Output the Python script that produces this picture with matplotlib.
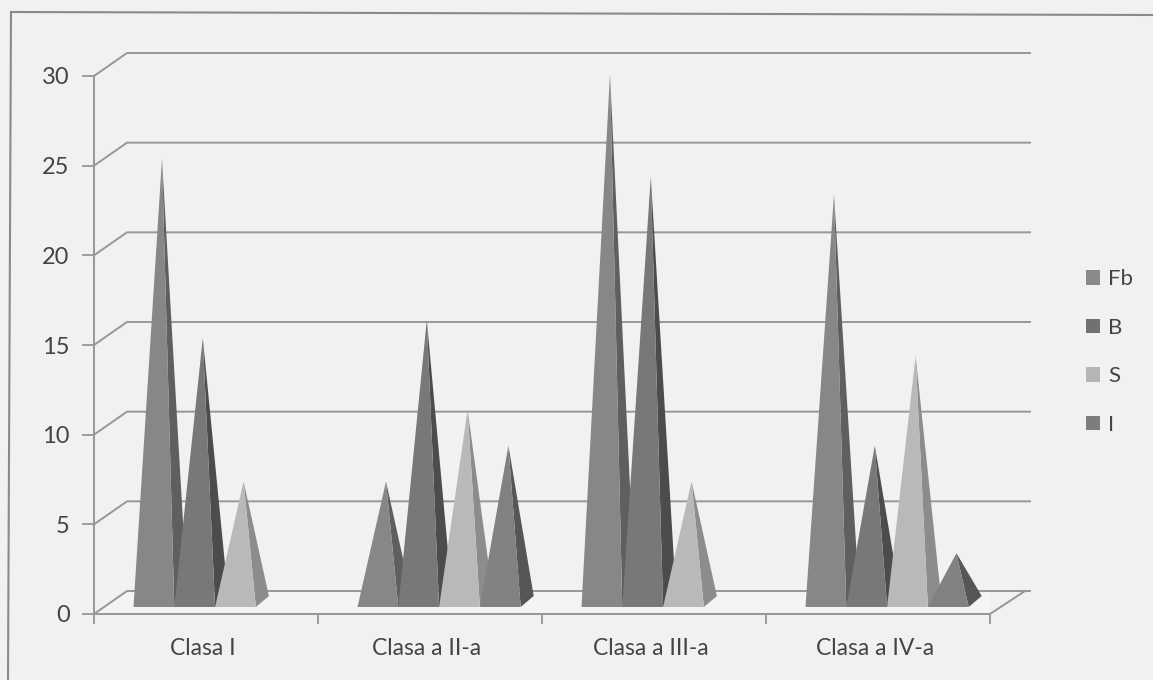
import matplotlib
matplotlib.use('Agg')
import matplotlib.pyplot as plt
from matplotlib.lines import Line2D
from matplotlib.patches import Polygon, Patch

categories = ['Clasa I', 'Clasa a II-a', 'Clasa a III-a', 'Clasa a IV-a']
series_names = ['Fb', 'B', 'S', 'I']
fb = [25, 7, 29.7, 23]
b = [15, 16, 24, 9]
s = [7, 11, 7, 14]
i_vals = [0, 9, 0, 3]
y_ticks = [0, 5, 10, 15, 20, 25, 30]

front_colors = ['#878787', '#787878', '#b9b9b9', '#818181']
side_colors = ['#5f5f5f', '#4c4c4c', '#8c8c8c', '#565656']
legend_colors = ['#8a8a8a', '#717171', '#b5b5b5', '#7d7d7d']
grid_color = '#979797'
text_color = '#444444'
bg = '#f1f1f1'

W, H = 1153, 680
fig = plt.figure(figsize=(W / 100, H / 100), dpi=100, facecolor=bg)
plt.rcParams['font.family'] = ['Lato', 'DejaVu Sans']

# axes is the front plane of the fake 3d box
ax = fig.add_axes([94 / W, 1 - 614 / H, (990 - 94) / W, (614 - 76) / H])
ax.set_xlim(0, 4)
ax.set_ylim(0, 30)
ax.patch.set_visible(False)

# pixel sizes in data units
px = 4 / (990 - 94)
py = 30 / (614 - 76)
wall_dx, wall_dy = 33 * px, 23 * py

for v in y_ticks:
    ax.plot([0, wall_dx, 4 + 40 * px], [v, v + wall_dy, v + wall_dy],
            color=grid_color, lw=1.4, clip_on=False, zorder=1)
ax.plot([4, 4 + 35 * px], [0, wall_dy], color=grid_color, lw=1.4, clip_on=False, zorder=1)

# floor, slightly lighter under the pyramids
ax.add_patch(Polygon([(0, 0), (wall_dx, wall_dy), (4 + 35 * px, wall_dy), (4, 0)],
                     closed=True, facecolor='#f4f4f4', edgecolor='none', zorder=0.5))

base_y = 7 * py
offset = 39.5 * px
width = 40.8 * px
depth_x, depth_y = 13 * px, 11 * py
apex_x = 28.5 * px


def pyramid(x, value, front, side):
    if value <= 0:
        return
    apex = (x + apex_x, base_y + value)
    ax.add_patch(Polygon([(x + width, base_y), (x + width + depth_x, base_y + depth_y), apex],
                         closed=True, facecolor=side, edgecolor='none', zorder=3))
    ax.add_patch(Polygon([(x, base_y), (x + width, base_y), apex],
                         closed=True, facecolor=front, edgecolor='none', zorder=3))


for c in range(len(categories)):
    for k, vals in enumerate([fb, b, s, i_vals]):
        pyramid(c + offset + k * width, vals[c], front_colors[k], side_colors[k])

for side in ['top', 'right']:
    ax.spines[side].set_visible(False)
for side in ['left', 'bottom']:
    ax.spines[side].set_color(grid_color)
    ax.spines[side].set_linewidth(1.4)

ax.set_yticks(y_ticks)
ax.set_xticks(range(5))
ax.set_xticklabels([])
# category labels sit a little left of centre in the original
ax.set_xticks([c + 0.5 - 3 * px for c in range(4)], minor=True)
ax.set_xticklabels(categories, minor=True, fontsize=16.5, color=text_color)
ax.tick_params(axis='x', which='minor', length=0, pad=17)
ax.tick_params(axis='x', which='major', length=7, width=1.3, color=grid_color)
ax.tick_params(axis='y', length=8.6, width=1.3, color=grid_color, labelsize=17,
               labelcolor=text_color, pad=9)

handles = [Patch(facecolor=col, edgecolor='none', label=n)
           for col, n in zip(legend_colors, series_names)]
fig.legend(handles=handles, loc='center left', bbox_to_anchor=(1086 / W, 1 - 352 / H),
           frameon=False, fontsize=16, handlelength=0.62, handleheight=0.62,
           handletextpad=0.37, labelspacing=1.28, labelcolor=text_color,
           borderpad=0, borderaxespad=0)

# scanned page border, only top and left show, slightly skewed
fig.add_artist(Line2D([11 / W, 1], [1 - 12 / H, 1 - 15 / H], color='#8a8a8a', lw=1.5))
fig.add_artist(Line2D([11 / W, 8 / W], [1 - 12 / H, 0], color='#8a8a8a', lw=1.5))

fig.savefig('out.png', dpi=100, facecolor=bg)
